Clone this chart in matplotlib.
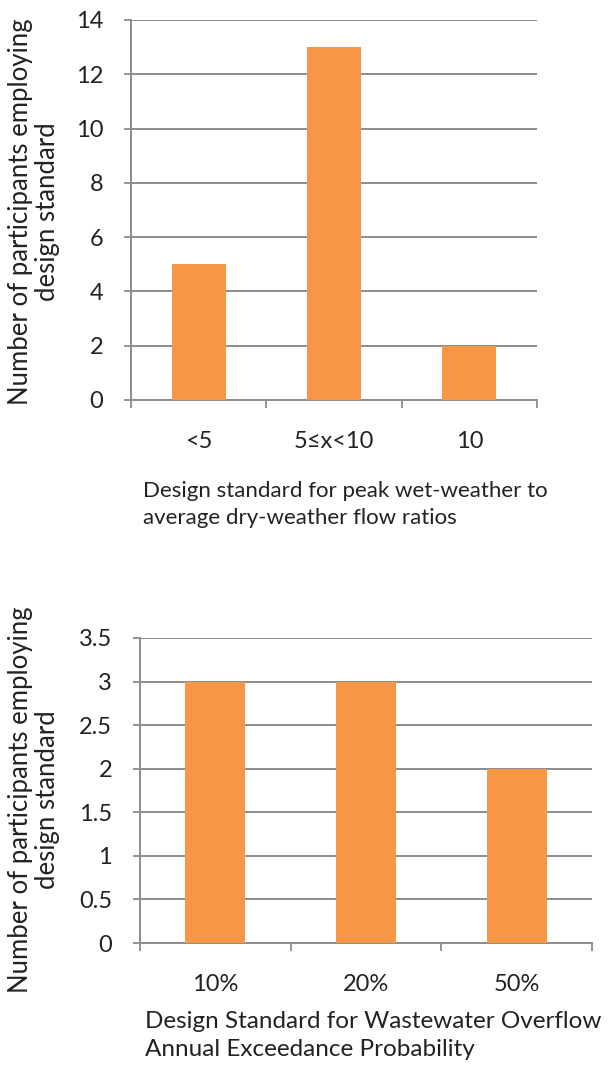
import matplotlib
matplotlib.use('Agg')
import numpy as np
from matplotlib import pyplot as plt

# top chart: peak wet-weather / dry-weather ratio
ratio_labels = ['<5', '5≤x<10', '10']
ratio_counts = [5, 13, 2]
ratio_yticks = [0, 2, 4, 6, 8, 10, 12, 14]
ratio_ytick_labels = ['0', '2', '4', '6', '8', '10', '12', '14']

# bottom chart: wastewater overflow AEP
aep_labels = ['10%', '20%', '50%']
aep_counts = [3, 3, 2]
aep_yticks = [0, 0.5, 1, 1.5, 2, 2.5, 3, 3.5]
aep_ytick_labels = ['0', '0.5', '1', '1.5', '2', '2.5', '3', '3.5']

ylabel = 'Number of participants employing\ndesign standard'
top_xlabel = 'Design standard for peak wet-weather to\naverage dry-weather flow ratios'
bottom_xlabel = 'Design Standard for Wastewater Overflow\nAnnual Exceedance Probability'

bar_color = '#F79646'
grid_color = '#8C8C8C'
text_color = '#222222'
fonts = ['Lato', 'DejaVu Sans']

plt.rcParams['font.family'] = fonts
plt.rcParams['text.color'] = text_color


def draw_bars(ax, labels, counts, yticks, ytick_labels):
    x = np.arange(len(labels))
    ax.set_axisbelow(True)
    ax.bar(x, counts, width=0.4, color=bar_color, zorder=3)
    ax.set_xlim(-0.5, len(labels) - 0.5)
    ax.set_ylim(yticks[0], yticks[-1])
    ax.set_yticks(yticks)
    ax.set_yticklabels(ytick_labels)
    ax.yaxis.grid(True, color=grid_color, linewidth=1.4)

    # category boundaries get the tick marks, labels sit at centres
    ax.set_xticks(np.arange(len(labels) + 1) - 0.5)
    ax.set_xticklabels([])
    ax.set_xticks(x, minor=True)
    ax.set_xticklabels(labels, minor=True)
    ax.tick_params(axis='x', which='major', length=6, width=1.3, color=grid_color, direction='out')
    ax.tick_params(axis='x', which='minor', length=0, pad=22, labelsize=17, labelcolor=text_color)
    ax.tick_params(axis='y', length=5, width=1.3, color=grid_color, pad=15, labelsize=17, labelcolor=text_color)

    for side in ['top', 'right']:
        ax.spines[side].set_visible(False)
    for side in ['left', 'bottom']:
        ax.spines[side].set_color(grid_color)
        ax.spines[side].set_linewidth(1.4)


fig = plt.figure(figsize=(6.15, 10.81), dpi=100)

ax1 = fig.add_axes([131 / 615, 1 - 400 / 1081, 406 / 615, 380 / 1081])
draw_bars(ax1, ratio_labels, ratio_counts, ratio_yticks, ratio_ytick_labels)

ax2 = fig.add_axes([140 / 615, 1 - 943 / 1081, 452 / 615, 305 / 1081])
draw_bars(ax2, aep_labels, aep_counts, aep_yticks, aep_ytick_labels)

fig.text(34 / 615, 1 - 212 / 1081, ylabel, rotation=90, ha='center', va='center',
         multialignment='center', fontsize=18.5, linespacing=1.05)
fig.text(34 / 615, 1 - 800 / 1081, ylabel, rotation=90, ha='center', va='center',
         multialignment='center', fontsize=18.5, linespacing=1.05)

fig.text(143 / 615, 1 - 481 / 1081, top_xlabel, ha='left', va='top', fontsize=16, linespacing=1.45)
fig.text(145 / 615, 1 - 1011 / 1081, bottom_xlabel, ha='left', va='top', fontsize=17.5, linespacing=1.4)

fig.savefig('out.png', dpi=100, facecolor='white')
